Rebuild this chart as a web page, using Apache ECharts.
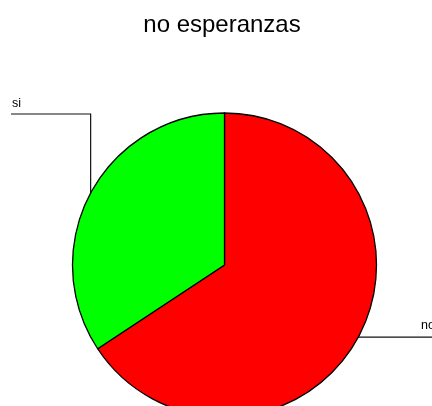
<!DOCTYPE html>
<html>
<head>
<meta charset="utf-8">
<script src="https://cdn.jsdelivr.net/npm/echarts@6/dist/echarts.min.js"></script>
<style>
  html, body { margin: 0; padding: 0; background: #fff; }
  #chart { width: 432px; height: 406px; }
</style>
</head>
<body>
<div id="chart"></div>
<script>
// Answers to "no esperanzas"
const titleText = 'no esperanzas';
const categories = ['no', 'si'];
const counts = [23, 12];
const sliceColors = ['#ff0000', '#00ff00'];

const FONT = "'Liberation Sans', Arial, sans-serif";
const CENTER = [224.5, 265];
const RADIUS = 152;

const chart = echarts.init(document.getElementById('chart'), null, { renderer: 'canvas' });

const data = categories.map((name, i) => ({
  name: name,
  value: counts[i],
  itemStyle: { color: sliceColors[i] }
}));

chart.setOption({
  backgroundColor: '#ffffff',
  animation: false,
  graphic: [{
    type: 'text',
    x: 222,
    y: 25,
    style: {
      text: titleText,
      font: '24px ' + FONT,
      fill: '#000',
      align: 'center',
      verticalAlign: 'middle'
    }
  }],
  series: [{
    type: 'pie',
    center: CENTER,
    radius: RADIUS,
    startAngle: 90,
    clockwise: true,
    avoidLabelOverlap: false,
    data: data,
    itemStyle: { borderColor: '#000', borderWidth: 1.3 },
    emphasis: { disabled: true },
    label: {
      show: true,
      formatter: '{b}',
      color: '#000',
      fontFamily: FONT,
      fontSize: 12.5
    },
    labelLine: {
      show: true,
      length: 10,
      length2: 10,
      lineStyle: { color: '#111', width: 1.2 }
    },
    // Leader lines: from the arc midpoint go vertically to a level, then
    // horizontally outward to the label.
    labelLayout: function (params) {
      const pts = params.labelLinePoints;
      if (!pts) return {};
      const p0 = pts[0];
      if (params.dataIndex === 1) {
        const levelY = 114;
        const endX = 11;
        return {
          x: endX + 1,
          y: levelY - 10,
          align: 'left',
          verticalAlign: 'middle',
          labelLinePoints: [[p0[0], p0[1]], [p0[0], levelY], [endX, levelY]]
        };
      }
      const levelY = p0[1];
      return {
        x: 421,
        y: levelY - 11,
        align: 'left',
        verticalAlign: 'middle',
        labelLinePoints: [[p0[0], p0[1]], [p0[0] + 1, levelY], [460, levelY]]
      };
    }
  }]
});
</script>
</body>
</html>
